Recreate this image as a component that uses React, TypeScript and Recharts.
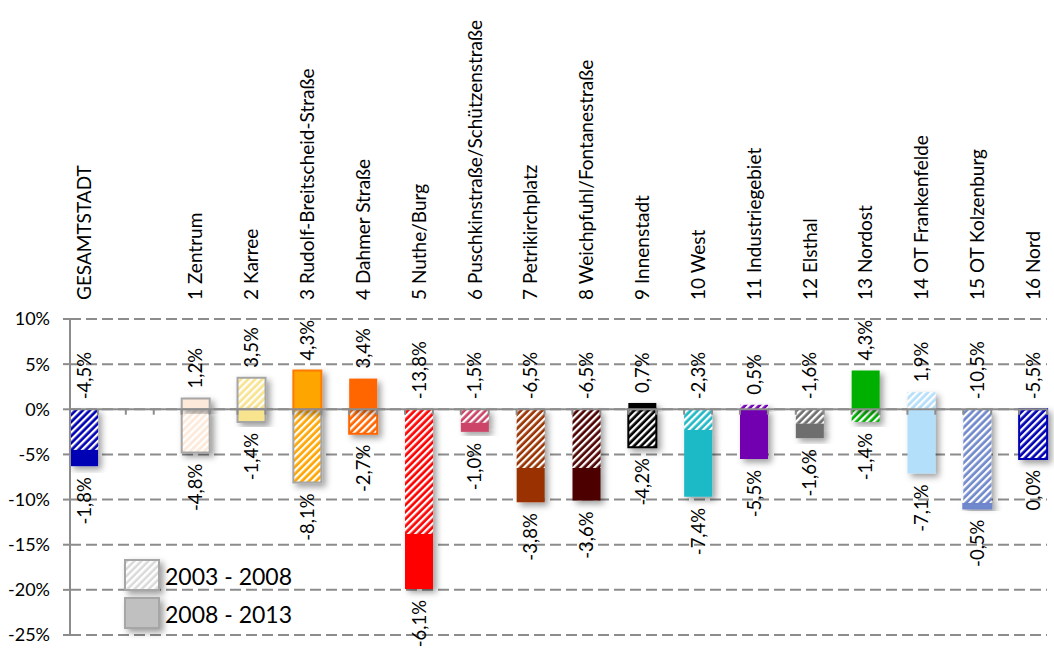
import React from 'react';
import {
  ComposedChart,
  Bar,
  Line,
  XAxis,
  YAxis,
  CartesianGrid,
  ReferenceLine,
  Cell,
} from 'recharts';

const FONT = "Lato, 'Open Sans', sans-serif";

const categories = [
  'GESAMTSTADT',
  '',
  '1 Zentrum',
  '2 Karree',
  '3 Rudolf-Breitscheid-Straße',
  '4 Dahmer Straße',
  '5 Nuthe/Burg',
  '6 Puschkinstraße/Schützenstraße',
  '7 Petrikirchplatz',
  '8 Weichpfuhl/Fontanestraße',
  '9 Innenstadt',
  '10 West',
  '11 Industriegebiet',
  '12 Elsthal',
  '13 Nordost',
  '14 OT Frankenfelde',
  '15 OT Kolzenburg',
  '16 Nord',
];

// Change 2003 - 2008 (hatched) in %
const change0308: (number | null)[] = [
  -4.5, null, -4.8, 3.5, -8.1, -2.7, -13.8, -1.5, -6.5, -6.5, -4.2, -2.3, 0.5, -1.6, -1.4, 1.9, -10.5, -5.5,
];
// Change 2008 - 2013 (solid) in %
const change0813: (number | null)[] = [
  -1.8, null, 1.2, -1.4, 4.3, 3.4, -6.1, -1.0, -3.8, -3.6, 0.7, -7.4, -5.5, -1.6, 4.3, -7.1, -0.5, 0.0,
];

const barColors = [
  '#0000b4', '#ffffff', '#fde9d9', '#f8e38e', '#ffa500', '#ff6600', '#ff0000', '#cc4468', '#993300',
  '#4d0000', '#000000', '#1fb9c6', '#7200b0', '#6e6e6e', '#00b000', '#b3dffb', '#7088cc', '#0000b4',
];
const strokes0308 = [
  'none', 'none', '#a6a6a6', '#a6a6a6', '#a6a6a6', '#ff6600', 'none', 'none', 'none',
  'none', '#000000', 'none', 'none', 'none', 'none', 'none', 'none', '#0000b4',
];
const strokes0813 = [
  'none', 'none', '#a6a6a6', '#a6a6a6', '#ff7a00', 'none', 'none', 'none', 'none',
  'none', 'none', 'none', 'none', 'none', 'none', 'none', '#6f86cc', 'none',
];

const yTicks = [-25, -20, -15, -10, -5, 0, 5, 10];
const seriesNames = ['2003 - 2008', '2008 - 2013'];

const fmt = (v: number) => v.toFixed(1).replace('.', ',') + '%';

const data = categories.map((name, i) => {
  const a = change0308[i];
  const b = change0813[i];
  if (a == null || b == null) {
    return { idx: i, name, a: null, b: null, top: null, bottom: null, topText: '', bottomText: '' };
  }
  const top = Math.max(a, 0) + Math.max(b, 0);
  const bottom = Math.min(a, 0) + Math.min(b, 0);
  let topText: string;
  let bottomText: string;
  if (a > 0 && b <= 0) {
    topText = fmt(a);
    bottomText = fmt(b);
  } else if (b > 0 && a <= 0) {
    topText = fmt(b);
    bottomText = fmt(a);
  } else {
    topText = fmt(a);
    bottomText = fmt(b);
  }
  return { idx: i, name, a, b, top, bottom, topText, bottomText };
});

const categoryTicks = categories.map((_, i) => i);
const edgeTicks = Array.from({ length: categories.length * 2 }, (_, k) => -0.25 + 0.5 * k);

const CategoryTick = (props: any) => {
  const { x, y, payload } = props;
  const name = categories[payload.value];
  if (!name) return <g />;
  return (
    <text
      transform={`translate(${x},${y - 19}) rotate(-90)`}
      textAnchor="start"
      dy="0.36em"
      fill="#000"
      fontSize={19}
      fontFamily={FONT}
    >
      {name}
    </text>
  );
};

const TopLabel = (props: any) => {
  const { cx, cy, payload, index } = props;
  if (cy == null || isNaN(cy) || !payload.topText) return <g key={`t-${index}`} />;
  return (
    <text
      key={`t-${index}`}
      transform={`translate(${cx},${cy - 10}) rotate(-90)`}
      textAnchor="start"
      dy="0.36em"
      fill="#000"
      fontSize={18.5}
      fontFamily={FONT}
    >
      {payload.topText}
    </text>
  );
};

const BottomLabel = (props: any) => {
  const { cx, cy, payload, index } = props;
  if (cy == null || isNaN(cy) || !payload.bottomText) return <g key={`b-${index}`} />;
  return (
    <text
      key={`b-${index}`}
      transform={`translate(${cx},${cy + 11}) rotate(-90)`}
      textAnchor="end"
      dy="0.36em"
      fill="#000"
      fontSize={18.5}
      fontFamily={FONT}
    >
      {payload.bottomText}
    </text>
  );
};

const LegendBox = () => (
  <div
    style={{
      position: 'absolute',
      left: 124,
      top: 560,
      fontFamily: FONT,
      fontSize: 23,
      color: '#000',
      lineHeight: 1,
    }}
  >
    {seriesNames.map((n, i) => (
      <div key={n} style={{ display: 'flex', alignItems: 'center', height: 32, marginBottom: 6 }}>
        <svg width={42} height={34} style={{ overflow: 'visible' }}>
          <rect
            x={1}
            y={1}
            width={34}
            height={30}
            fill={i === 0 ? 'url(#hatch-legend)' : '#c0c0c0'}
            stroke="#a6a6a6"
            strokeWidth={2}
            filter="url(#shadow)"
          />
        </svg>
        <span style={{ marginLeft: -1 }}>{n}</span>
      </div>
    ))}
  </div>
);

export default function App() {
  return (
    <div style={{ position: 'absolute', left: 0, top: 0, width: 1054, height: 648, background: '#fff' }}>
      <svg width={0} height={0} style={{ position: 'absolute' }}>
        <defs>
          <filter id="shadow" x="-40%" y="-40%" width="180%" height="180%">
            <feDropShadow dx="3.5" dy="3.5" stdDeviation="3" floodColor="#000" floodOpacity="0.38" />
          </filter>
          {barColors.map((c, i) => (
            <pattern
              key={i}
              id={`hatch-${i}`}
              patternUnits="userSpaceOnUse"
              width={5}
              height={5}
              patternTransform="rotate(45)"
            >
              <rect width={5} height={5} fill={c} />
              <rect width={2.3} height={5} fill="#ffffff" />
            </pattern>
          ))}
          <pattern id="hatch-legend" patternUnits="userSpaceOnUse" width={5} height={5} patternTransform="rotate(45)">
            <rect width={5} height={5} fill="#d9d9d9" />
            <rect width={2.5} height={5} fill="#ffffff" />
          </pattern>
        </defs>
      </svg>
      <ComposedChart
        width={1054}
        height={648}
        data={data}
        stackOffset="sign"
        margin={{ top: 299, right: 7, bottom: 13, left: 0 }}
        style={{ fontFamily: FONT }}
      >
        <CartesianGrid
          horizontal
          vertical={false}
          stroke="#8c8c8c"
          strokeWidth={2}
          strokeDasharray="11 5"
        />
        <XAxis
          dataKey="idx"
          type="number"
          orientation="top"
          domain={[-0.25, categories.length - 0.75]}
          ticks={categoryTicks}
          interval={0}
          height={20}
          axisLine={false}
          tickLine={false}
          tickSize={0}
          tickMargin={0}
          tick={<CategoryTick />}
        />
        <YAxis
          type="number"
          domain={[-25, 10]}
          ticks={yTicks}
          interval={0}
          width={70}
          tickFormatter={(v: number) => `${v}%`}
          axisLine={{ stroke: '#8c8c8c', strokeWidth: 2 }}
          tickLine={{ stroke: '#8c8c8c', strokeWidth: 2 }}
          tickSize={7}
          tickMargin={13}
          tick={{ fill: '#000', fontSize: 18, fontFamily: FONT }}
        />
        <Bar dataKey="a" name={seriesNames[0]} stackId="s" barSize={28} isAnimationActive={false}>
          {data.map((d, i) => (
            <Cell
              key={`a-${i}`}
              fill={`url(#hatch-${i})`}
              stroke={strokes0308[i]}
              strokeWidth={2}
              filter="url(#shadow)"
            />
          ))}
        </Bar>
        <Bar dataKey="b" name={seriesNames[1]} stackId="s" barSize={28} isAnimationActive={false}>
          {data.map((d, i) => (
            <Cell
              key={`b-${i}`}
              fill={barColors[i]}
              stroke={strokes0813[i]}
              strokeWidth={2}
              filter="url(#shadow)"
            />
          ))}
        </Bar>
        <ReferenceLine y={0} stroke="#8c8c8c" strokeWidth={2} />
        {edgeTicks.map((t) => (
          <ReferenceLine
            key={`tick-${t}`}
            segment={[
              { x: t, y: 0 },
              { x: t, y: -0.6 },
            ]}
            stroke="#8c8c8c"
            strokeWidth={2}
          />
        ))}
        <Line
          dataKey="top"
          stroke="none"
          isAnimationActive={false}
          dot={(p: any) => <TopLabel {...p} key={`t-${p.index}`} />}
          activeDot={false}
          legendType="none"
        />
        <Line
          dataKey="bottom"
          stroke="none"
          isAnimationActive={false}
          dot={(p: any) => <BottomLabel {...p} key={`b-${p.index}`} />}
          activeDot={false}
          legendType="none"
        />
      </ComposedChart>
      <LegendBox />
    </div>
  );
}
